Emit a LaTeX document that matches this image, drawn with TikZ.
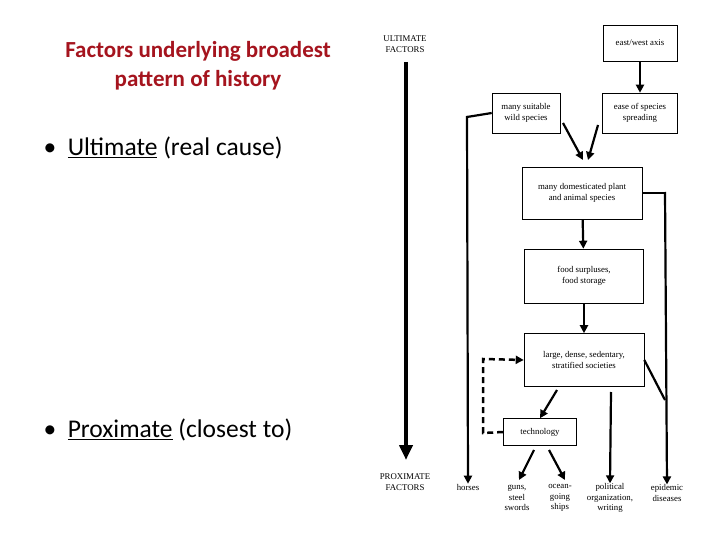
\documentclass[tikz,border=0pt]{standalone}
\usepackage{fontspec}
\setmainfont{Carlito}
\newfontfamily\bookfont{Liberation Serif}
\usetikzlibrary{arrows.meta}
\definecolor{titlered}{RGB}{165,20,30}
\begin{document}
\begin{tikzpicture}[x=1pt,y=-1pt,
  bx/.style={draw,line width=0.6pt,minimum width=#1,inner sep=1pt,font=\bookfont\fontsize{8.8}{10.5}\selectfont,align=center},
  lbl/.style={font=\bookfont\fontsize{8.8}{10.5}\selectfont,align=center,inner sep=0pt},
  ar/.style={line width=2.2pt,-{Triangle[length=8pt,width=8pt]}},
  ln/.style={line width=2.2pt}]
\useasboundingbox (0,0) rectangle (720,540);
\node[font=\bfseries\fontsize{23}{29}\selectfont,text=titlered,align=center] (title) at (198,66) {Factors underlying broadest\\pattern of history};
\node[font=\fontsize{25.5}{30}\selectfont,anchor=west] (b1) at (40,148) {\textbullet\ \ \underline{Ultimate} (real cause)};
\node[font=\fontsize{25.5}{30}\selectfont,anchor=west] (b2) at (40,430) {\textbullet\ \ \underline{Proximate} (closest to)};
% diagram
\node[lbl] (ult) at (405,44) {ULTIMATE\\FACTORS};
\node[lbl] (prox) at (405,482) {PROXIMATE\\FACTORS};
\draw[line width=4.5pt,-{Triangle[length=15pt,width=13pt]}] (406,62) -- (406,460);
\node[bx=74pt,minimum height=36pt] (ew) at (640,43) {east/west axis};
\node[bx=68pt,minimum height=40pt] (wild) at (526,113) {many suitable\\wild species};
\node[bx=75pt,minimum height=40pt] (ease) at (640,113) {ease of species\\spreading};
\node[bx=120pt,minimum height=52pt] (dom) at (582,193) {many domesticated plant\\and animal species};
\node[bx=119pt,minimum height=54pt] (food) at (584,276) {food surpluses,\\food storage};
\node[bx=120pt,minimum height=53pt] (soc) at (584,360) {large, dense, sedentary,\\stratified societies};
\node[bx=73pt,minimum height=27pt] (tech) at (540,432) {technology};
\node[lbl] (horses) at (468,487) {horses};
\node[lbl] (guns) at (517,498) {guns,\\steel\\swords};
\node[lbl] (ships) at (560,498) {ocean-\\going\\ships};
\node[lbl] (pol) at (610,498) {political\\organization,\\writing};
\node[lbl] (epi) at (667,493) {epidemic\\diseases};
\draw[ar] (ew) -- (ease);
\draw[ar] (563,123) -- (583,160);
\draw[ar] (598,125) -- (588,160);
\draw[ar] (dom) -- (food);
\draw[ar] (food) -- (soc);
\draw[ar] (557,390) -- (tech.north);
\draw[ar] (611,392) -- (pol.north);
\draw[ar] (534,450) -- (519,480);
\draw[ar] (549,450) -- (565,480);
\draw[ln] (wild.west) -- (467,117);
\draw[ar] (467,116) -- (horses.north);
\draw[ln] (dom.east) -- (665,193);
\draw[ar] (665,192) -- (epi.north);
\draw[ln] (soc.east) -- (665,400);
\draw[line width=2.5pt,dash pattern=on 6pt off 4pt,-{Triangle[length=8pt,width=8pt]}] (tech.west) -- (483,433) -- (483,359) -- (soc.west);
\end{tikzpicture}
\end{document}
